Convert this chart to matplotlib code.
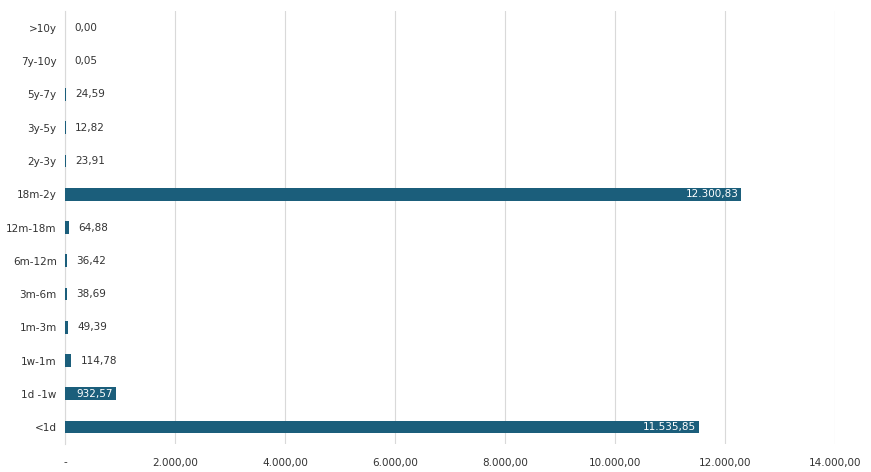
import matplotlib
matplotlib.use("Agg")
import matplotlib.pyplot as plt
from matplotlib.ticker import FuncFormatter

categories = ["<1d", "1d -1w", "1w-1m", "1m-3m", "3m-6m", "6m-12m", "12m-18m", "18m-2y", "2y-3y", "3y-5y", "5y-7y", "7y-10y", ">10y"]
values = [11535.85, 932.57, 114.78, 49.39, 38.69, 36.42, 64.88, 12300.83, 23.91, 12.82, 24.59, 0.05, 0.00]
xticks = [0, 2000, 4000, 6000, 8000, 10000, 12000, 14000]

def br(v):
    s = f"{v:,.2f}"
    return s.replace(",", "X").replace(".", ",").replace("X", ".")

color = "#1b5e7b"
fig = plt.figure(figsize=(8.71, 4.72), dpi=100)
ax = fig.add_axes([0.0746, 0.06, 0.884, 0.916])
y = list(range(len(categories)))
ax.barh(y, values, height=0.38, color=color, zorder=3)
for yi, v in zip(y, values):
    if v > 500:
        ax.text(v - 60, yi, br(v), color="white", ha="right", va="center", fontsize=7.5, zorder=4)
    else:
        ax.text(v + 170, yi, br(v), color="#333333", ha="left", va="center", fontsize=7.5, zorder=4)
ax.set_yticks(y)
ax.set_yticklabels(categories, fontsize=7.5, color="#333333")
ax.set_xlim(0, 14000)
ax.set_ylim(-0.5, len(categories) - 0.5)
ax.set_xticks(xticks)
ax.xaxis.set_major_formatter(FuncFormatter(lambda v, p: "-" if v == 0 else br(v)))
ax.tick_params(axis="x", labelsize=7.5, colors="#333333", length=0, pad=10)
ax.tick_params(axis="y", length=0, pad=6)
ax.grid(axis="x", color="#d9d9d9", linewidth=0.8, zorder=0)
for s in ["top", "right", "bottom"]:
    ax.spines[s].set_visible(False)
ax.spines["left"].set_color("#d9d9d9")
fig.savefig("out.png", dpi=100)
